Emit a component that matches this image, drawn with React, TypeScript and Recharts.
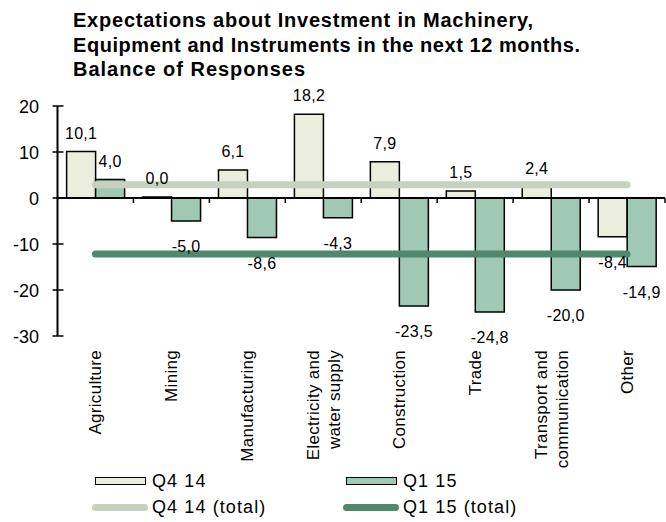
import React from "react";
import {
  ComposedChart,
  Bar,
  Line,
  XAxis,
  YAxis,
  ReferenceLine,
  LabelList,
} from "recharts";

const categories = [
  "Agriculture",
  "Mining",
  "Manufacturing",
  "Electricity and\nwater supply",
  "Construction",
  "Trade",
  "Transport and\ncommunication",
  "Other",
];
const q4Values = [10.1, 0.0, 6.1, 18.2, 7.9, 1.5, 2.4, -8.4];
const q1Values = [4.0, -5.0, -8.6, -4.3, -23.5, -24.8, -20.0, -14.9];
const q4Total = [2.9, 2.9, 2.9, 2.9, 2.9, 2.9, 2.9, 2.9];
const q1Total = [-12.2, -12.2, -12.2, -12.2, -12.2, -12.2, -12.2, -12.2];
const yTicks = [-30, -20, -10, 0, 10, 20];
const titleLines = [
  "Expectations about Investment in Machinery,",
  "Equipment and Instruments in the next 12 months.",
  "Balance of Responses",
];

const FONT = "'Liberation Sans', Arial, sans-serif";
const Q4_FILL = "#ebeedc";
const Q1_FILL = "#9fc8b5";
const Q4_LINE = "#c6d2bd";
const Q1_LINE = "#4f886c";

const data = categories.map((name, i) => ({
  name,
  q4: q4Values[i],
  q1: q1Values[i],
  q4t: q4Total[i],
  q1t: q1Total[i],
}));

const fmt = (v: number) => v.toFixed(1).replace(".", ",");

function ValueLabel(props: any) {
  const { x, y, width, height, value } = props;
  const top = Math.min(y, y + height);
  const bottom = Math.max(y, y + height);
  const cx = x + width / 2;
  const ty = value >= 0 ? top - 13 : bottom + 31;
  return (
    <text
      x={cx}
      y={ty}
      textAnchor="middle"
      fontFamily={FONT}
      fontSize={16}
      letterSpacing={0.3}
      fill="#000"
    >
      {fmt(value)}
    </text>
  );
}

function CategoryTick(props: any) {
  const { x, y, payload } = props;
  const lines = String(payload.value).split("\n");
  const gap = 21;
  return (
    <g transform={`translate(${x},${y + 14}) rotate(-90)`}>
      <text
        textAnchor="end"
        fontFamily={FONT}
        fontSize={17}
        letterSpacing={0.3}
        fill="#000"
      >
        {lines.map((ln, i) => (
          <tspan key={i} x={0} y={6 + (i - (lines.length - 1) / 2) * gap}>
            {ln}
          </tspan>
        ))}
      </text>
    </g>
  );
}

function ValueTick(props: any) {
  const { x, y, payload } = props;
  return (
    <g>
      <line x1={x - 5} x2={x + 6} y1={y} y2={y} stroke="#000" strokeWidth={1.5} />
      <text
        x={x - 18.5}
        y={y}
        dy="0.37em"
        textAnchor="end"
        fontFamily={FONT}
        fontSize={18}
        fill="#000"
      >
        {payload.value}
      </text>
    </g>
  );
}

function ZeroLine(props: any) {
  const { x1, x2, y1 } = props;
  const n = categories.length;
  const step = (x2 - x1) / n;
  return (
    <g>
      <line x1={x1} x2={x2} y1={y1} y2={y1} stroke="#000" strokeWidth={2} />
      {categories.map((_, i) => (
        <line
          key={i}
          x1={x1 + (i + 1) * step}
          x2={x1 + (i + 1) * step}
          y1={y1}
          y2={y1 + 5}
          stroke="#000"
          strokeWidth={1.5}
        />
      ))}
    </g>
  );
}

const legendItems = [
  { name: "Q4 14", kind: "bar", color: Q4_FILL },
  { name: "Q1 15", kind: "bar", color: Q1_FILL },
  { name: "Q4 14 (total)", kind: "line", color: Q4_LINE },
  { name: "Q1 15 (total)", kind: "line", color: Q1_LINE },
];

function ChartLegend() {
  return (
    <div
      style={{
        position: "absolute",
        left: 92,
        top: 468,
        display: "grid",
        gridTemplateColumns: "251px 200px",
        gridAutoRows: "26px",
        fontFamily: FONT,
        fontSize: 18,
        letterSpacing: 1.1,
      }}
    >
      {legendItems.map((it) => (
        <div key={it.name} style={{ display: "flex", alignItems: "center" }}>
          <div style={{ width: 56, marginRight: 4, display: "flex", justifyContent: "center" }}>
            {it.kind === "bar" ? (
              <div
                style={{
                  width: 51,
                  height: 8,
                  boxSizing: "border-box",
                  border: "1.5px solid #000",
                  background: it.color,
                }}
              />
            ) : (
              <div style={{ width: 56, height: 7, borderRadius: 4, background: it.color }} />
            )}
          </div>
          <span>{it.name}</span>
        </div>
      ))}
    </div>
  );
}

export default function App() {
  return (
    <div
      style={{
        position: "absolute",
        left: 0,
        top: 0,
        width: 666,
        height: 522,
        background: "#fff",
      }}
    >
      <svg
        width={666}
        height={90}
        style={{ position: "absolute", left: 0, top: 0 }}
      >
        {titleLines.map((t, i) => (
          <text
            key={i}
            x={73}
            y={27 + i * 24.5}
            fontFamily={FONT}
            fontWeight="bold"
            fontSize={20}
            textLength={[460, 507, 232][i]}
            lengthAdjust="spacing"
          >
            {t}
          </text>
        ))}
      </svg>
      <ComposedChart
        width={666}
        height={522}
        data={data}
        margin={{ top: 106, right: 1, bottom: 0, left: 0 }}
        barCategoryGap="12%"
        barGap={0}
      >
        <XAxis
          dataKey="name"
          interval={0}
          height={186}
          axisLine={false}
          tickLine={false}
          tickSize={0}
          tickMargin={0}
          tick={<CategoryTick />}
        />
        <YAxis
          width={57.5}
          domain={[-30, 20]}
          ticks={yTicks}
          interval={0}
          axisLine={{ stroke: "#000", strokeWidth: 2 }}
          tickLine={false}
          tickSize={0}
          tickMargin={0}
          tick={<ValueTick />}
        />
        <Bar
          dataKey="q4"
          name="Q4 14"
          fill={Q4_FILL}
          stroke="#000"
          strokeWidth={1.5}
          minPointSize={1}
          isAnimationActive={false}
        >
          <LabelList dataKey="q4" content={<ValueLabel />} />
        </Bar>
        <Bar
          dataKey="q1"
          name="Q1 15"
          fill={Q1_FILL}
          stroke="#000"
          strokeWidth={1.5}
          isAnimationActive={false}
        >
          <LabelList dataKey="q1" content={<ValueLabel />} />
        </Bar>
        <ReferenceLine y={0} shape={<ZeroLine />} />
        <Line
          dataKey="q4t"
          name="Q4 14 (total)"
          stroke={Q4_LINE}
          strokeWidth={7}
          strokeLinecap="round"
          dot={false}
          activeDot={false}
          isAnimationActive={false}
        />
        <Line
          dataKey="q1t"
          name="Q1 15 (total)"
          stroke={Q1_LINE}
          strokeWidth={7}
          strokeLinecap="round"
          dot={false}
          activeDot={false}
          isAnimationActive={false}
        />
      </ComposedChart>
      <ChartLegend />
    </div>
  );
}
